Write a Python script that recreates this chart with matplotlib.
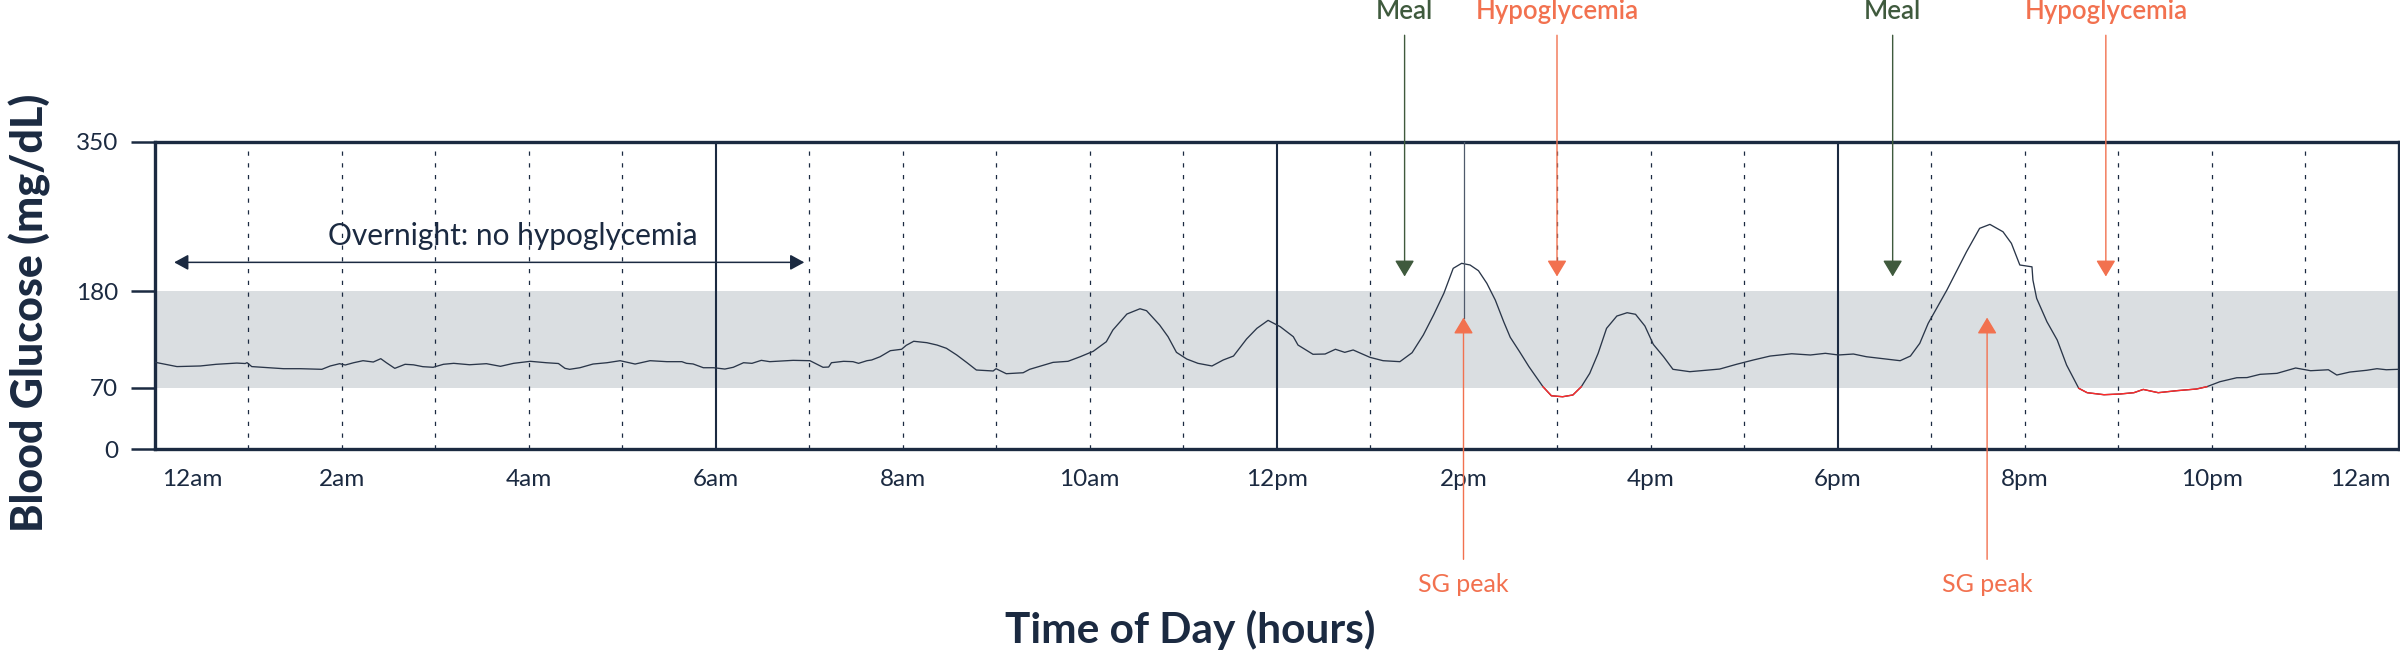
import numpy as np
import matplotlib
matplotlib.use("Agg")
import matplotlib.pyplot as plt
from matplotlib.transforms import ScaledTranslation

# ---------------- data ----------------
hours = [0.00, 0.03, 0.24, 0.49, 0.66, 0.88, 0.97, 0.99, 1.04, 1.38, 1.56, 1.79, 1.88, 1.98,
         2.04, 2.13, 2.23, 2.34, 2.42, 2.48, 2.57, 2.68, 2.77, 2.87, 2.98, 3.09, 3.20, 3.37,
         3.55, 3.70, 3.84, 4.02, 4.19, 4.32, 4.39, 4.44, 4.55, 4.69, 4.84, 4.98, 5.14, 5.30,
         5.48, 5.64, 5.69, 5.76, 5.87, 5.98, 6.10, 6.19, 6.30, 6.39, 6.49, 6.58, 6.83, 7.01,
         7.08, 7.15, 7.21, 7.24, 7.37, 7.47, 7.53, 7.62, 7.67, 7.76, 7.87, 7.99, 8.04, 8.12,
         8.19, 8.26, 8.37, 8.47, 8.58, 8.69, 8.79, 8.97, 9.00, 9.11, 9.29, 9.36, 9.61, 9.77,
         9.90, 10.04, 10.18, 10.25, 10.40, 10.54, 10.61, 10.75, 10.84, 10.93, 11.04, 11.16,
         11.31, 11.43, 11.54, 11.68, 11.79, 11.91, 12.04, 12.18, 12.23, 12.39, 12.52, 12.63,
         12.73, 12.82, 13.00, 13.14, 13.32, 13.45, 13.57, 13.68, 13.79, 13.89, 13.98, 14.07,
         14.16, 14.25, 14.34, 14.43, 14.50, 14.60, 14.70, 14.85, 14.94, 15.06, 15.17, 15.26,
         15.35, 15.44, 15.53, 15.64, 15.75, 15.84, 15.94, 16.03, 16.14, 16.24, 16.42, 16.74,
         16.92, 17.10, 17.28, 17.51, 17.71, 17.87, 18.01, 18.17, 18.31, 18.49, 18.67, 18.78,
         18.88, 18.97, 19.06, 19.17, 19.28, 19.38, 19.45, 19.52, 19.63, 19.77, 19.86, 19.95,
         20.08, 20.09, 20.13, 20.24, 20.35, 20.45, 20.58, 20.67, 20.85, 21.02, 21.17, 21.27,
         21.43, 21.63, 21.84, 21.95, 22.09, 22.27, 22.38, 22.52, 22.70, 22.90, 23.06, 23.25,
         23.34, 23.48, 23.66, 23.77, 23.87, 24.00]
glucose = [99.0, 98.4, 94.0, 94.7, 96.6, 98.0, 97.5, 98.5, 94.0, 91.6, 91.6, 90.9, 94.7, 97.3,
           95.8, 98.4, 100.7, 99.2, 103.0, 98.4, 92.0, 96.6, 96.0, 93.9, 93.2, 96.6, 97.7, 96.1,
           97.3, 94.3, 97.7, 100.0, 98.4, 97.5, 92.0, 90.9, 92.7, 96.9, 98.4, 100.7, 96.9, 100.7,
           99.6, 99.6, 97.7, 97.0, 92.7, 92.7, 91.2, 93.2, 98.4, 97.7, 101.1, 99.6, 101.1, 100.7,
           96.9, 93.2, 93.5, 98.4, 100.0, 99.6, 97.7, 100.7, 101.5, 105.2, 112.1, 113.7, 118.2, 122.8,
           122.0, 121.2, 118.5, 114.8, 107.2, 98.4, 90.1, 89.0, 91.6, 85.9, 87.0, 90.9, 98.8, 100.0,
           105.2, 111.4, 122.3, 135.6, 153.8, 159.8, 157.6, 141.3, 128.0, 110.2, 102.6, 97.7,
           94.7, 101.5, 106.0, 125.4, 137.5, 146.6, 139.4, 128.0, 118.5, 108.0, 108.3, 113.7,
           110.2, 112.9, 104.5, 100.7, 99.6, 109.8, 129.9, 152.7, 177.4, 205.8, 211.5, 209.6,
           203.1, 188.7, 169.7, 145.0, 127.3, 110.9, 93.9, 71.1, 60.8, 59.7, 61.7, 71.1,
           86.3, 109.1, 137.5, 151.5, 155.3, 153.5, 140.2, 119.3, 105.2, 90.9, 88.2, 91.2,
           96.6, 101.5, 106.0, 108.6, 107.2, 109.1, 107.2, 108.3, 105.2, 103.0, 100.7, 106.0,
           120.5, 143.2, 160.3, 181.1, 203.9, 224.7, 238.0, 251.3, 255.8, 247.4, 234.2, 209.6,
           207.5, 192.5, 171.6, 145.0, 124.2, 95.8, 69.3, 64.3, 62.0, 62.8, 64.3, 68.0,
           64.3, 66.6, 68.5, 71.1, 76.8, 81.3, 81.5, 85.2, 86.3, 92.4, 89.3, 90.4,
           84.4, 87.8, 89.8, 91.6, 90.4, 90.9]

tick_hours = list(range(0, 25, 2))
tick_labels = ["12am", "2am", "4am", "6am", "8am", "10am", "12pm",
               "2pm", "4pm", "6pm", "8pm", "10pm", "12am"]
y_ticks = [0, 70, 180, 350]
target_low, target_high = 70, 180
meal_hours = [13.37, 18.59]
hypo_hours = [15.0, 20.87]
peak_hours = [14.0, 19.6]
overnight_span = [0.21, 6.95]

# ---------------- style ----------------
NAVY = "#1b2a41"
CURVE = "#2a3649"
BAND = "#dadee1"
RED = "#ff2a2a"
ORANGE = "#f2714f"
GREEN = "#3f5a3d"

plt.rcParams["font.family"] = ["Lato", "DejaVu Sans"]

W, H, DPI = 2400, 660, 100
fig = plt.figure(figsize=(W / DPI, H / DPI), dpi=DPI)
left_px, right_px, top_px, bot_px = 154.5, 2398.5, 141.6, 449.2
ax = fig.add_axes([left_px / W, 1 - bot_px / H, (right_px - left_px) / W, (bot_px - top_px) / H])

ax.set_xlim(0, 24)
ax.set_ylim(0, 350)

# target band
ax.axhspan(target_low, target_high, color=BAND, lw=0, zorder=0)

# vertical grid
for h in range(1, 24):
    if h % 6 == 0:
        ax.axvline(h, color=NAVY, lw=1.5, zorder=1)
    elif h in [int(p) for p in peak_hours if float(p).is_integer()]:
        continue
    else:
        ax.axvline(h, color=NAVY, lw=0.9, linestyle=(0, (3.4, 6.0)), zorder=1)

x = np.array(hours)
y = np.array(glucose)
ax.plot(x, y, color=CURVE, lw=0.95, zorder=3)
y_low = np.where(y <= 72, y, np.nan)
ax.plot(x, y_low, color=RED, lw=1.0, zorder=4)

# spines / ticks
for s in ax.spines.values():
    s.set_color(NAVY)
    s.set_linewidth(2.4)
ax.set_yticks(y_ticks)
ax.set_yticklabels([str(v) for v in y_ticks])
ax.tick_params(axis="y", length=17.3, width=1.8, color=NAVY, pad=9, labelsize=17.5, labelcolor=NAVY)
ax.set_xticks(tick_hours)
ax.set_xticklabels(tick_labels)
ax.tick_params(axis="x", length=0, pad=14, labelsize=17.5, labelcolor=NAVY)
ticks = ax.xaxis.get_major_ticks()
ticks[0].label1.set_transform(ticks[0].label1.get_transform() + ScaledTranslation(38 / DPI, 0, fig.dpi_scale_trans))
ticks[-1].label1.set_transform(ticks[-1].label1.get_transform() + ScaledTranslation(-38.5 / DPI, 0, fig.dpi_scale_trans))

# annotations
def down_arrow(xh, color):
    ax.annotate("", xy=(xh, 196.5), xytext=(xh, 471), annotation_clip=False,
                arrowprops=dict(arrowstyle="-|>,head_length=0.5,head_width=0.3", mutation_scale=20,
                                color=color, lw=1.0, shrinkA=0, shrinkB=0), zorder=6)

for xh in meal_hours:
    down_arrow(xh, GREEN)
    ax.text(xh, 490, "Meal", color=GREEN, fontsize=18.5, fontweight="semibold",
            ha="center", va="baseline", clip_on=False)
for xh in hypo_hours:
    down_arrow(xh, ORANGE)
    ax.text(xh, 490, "Hypoglycemia", color=ORANGE, fontsize=18.5, fontweight="semibold",
            ha="center", va="baseline", clip_on=False)
for i, xh in enumerate(peak_hours):
    if i == 0:
        ax.plot([xh, xh], [149.8, 350], color="#4f5a6b", lw=0.9, zorder=5)
    ax.annotate("", xy=(xh, 149.8), xytext=(xh, -125.3), annotation_clip=False,
                arrowprops=dict(arrowstyle="-|>,head_length=0.5,head_width=0.3", mutation_scale=20,
                                color=ORANGE, lw=1.0, shrinkA=0, shrinkB=0), zorder=6)
    ax.text(xh, -162, "SG peak", color=ORANGE, fontsize=18, ha="center", va="baseline",
            clip_on=False)

ax.annotate("", xy=(overnight_span[0], 212.6), xytext=(overnight_span[1], 212.6), annotation_clip=False,
            arrowprops=dict(arrowstyle="<|-|>,head_length=0.43,head_width=0.235", mutation_scale=20,
                            color=NAVY, lw=1.1, shrinkA=0, shrinkB=0), zorder=6)
ax.text(3.83, 232.5, "Overnight: no hypoglycemia", color=NAVY, fontsize=21.5,
        ha="center", va="baseline", zorder=6)

fig.text(30 / W, 1 - 312.5 / H, "Blood Glucose (mg/dL)", rotation=90, ha="center", va="center",
         fontsize=31, fontweight="black", color=NAVY)
fig.text(1190 / W, 1 - 643.3 / H, "Time of Day (hours)", ha="center", va="baseline",
         fontsize=30.5, fontweight="bold", color=NAVY)

fig.savefig("out.png", dpi=DPI)
